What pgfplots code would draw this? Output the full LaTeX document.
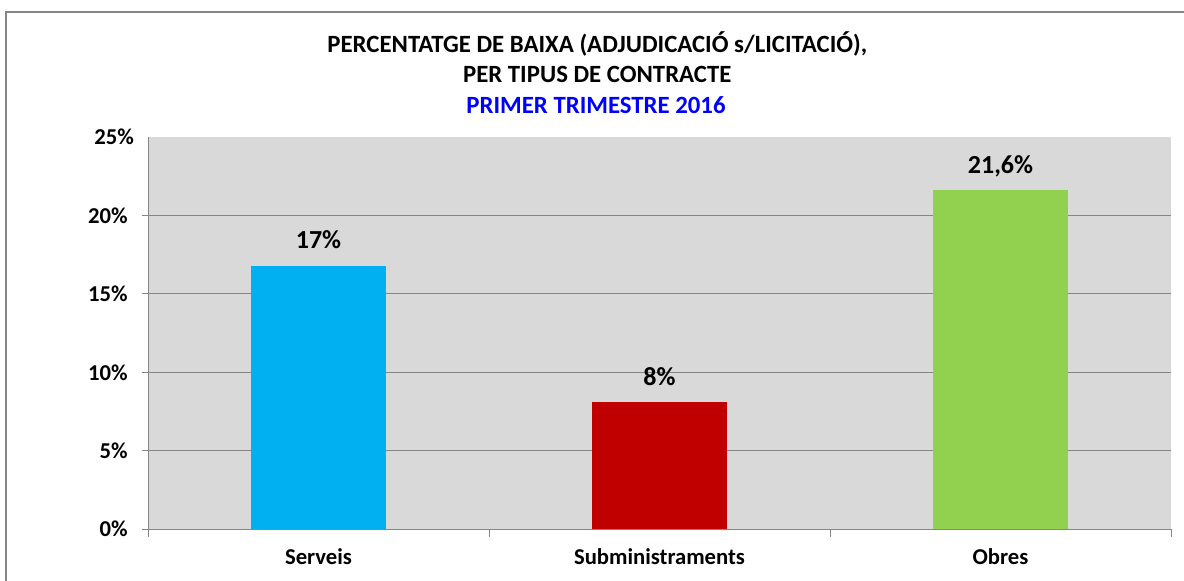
\documentclass[border=0pt]{standalone}
\usepackage{pgfplots}
\pgfplotsset{compat=1.18}
\usepackage{fontspec}
\setmainfont{Carlito}
\definecolor{plotbg}{RGB}{217,217,217}
\definecolor{gridgray}{RGB}{134,134,134}
\definecolor{servblue}{RGB}{0,176,240}
\definecolor{submred}{RGB}{192,0,0}
\definecolor{obresgreen}{RGB}{146,208,80}
\definecolor{titleblue}{RGB}{0,0,255}

\begin{document}
\begin{tikzpicture}
\useasboundingbox (0,0) rectangle (888pt,435.75pt);
% outer frame (only top and left visible)
\draw[gridgray, line width=1pt] (4.5pt,-5pt) -- (4.5pt,426.75pt) -- (900pt,426.75pt);
% title
\node[anchor=base, font=\fontsize{18.6}{22}\selectfont\bfseries] at (448pt,396.5pt)
  {PERCENTATGE DE BAIXA (ADJUDICACIÓ s/LICITACIÓ),};
\node[anchor=base, font=\fontsize{18.6}{22}\selectfont\bfseries] at (448pt,374pt)
  {PER TIPUS DE CONTRACTE};
\node[anchor=base, font=\fontsize{18.6}{22}\selectfont\bfseries, text=titleblue] at (447pt,350.7pt)
  {PRIMER TRIMESTRE 2016};

\begin{axis}[
  at={(111pt,38.8pt)}, anchor=south west,
  scale only axis, width=767.25pt, height=294.2pt,
  ybar, bar width=101.25pt, bar shift=0pt,
  xmin=-0.5, xmax=2.5, ymin=0, ymax=25,
  xtick={0,1,2},
  xticklabels={Serveis,Subministraments,Obres},
  minor xtick={-0.5,0.5,1.5,2.5},
  ytick={0,5,10,15,20},
  yticklabels={0\%,5\%,10\%,15\%,20\%},
  extra y ticks={25}, extra y tick labels={25\%},
  extra y tick style={grid=none, major tick length=0pt},
  ymajorgrids,
  grid style={gridgray, line width=0.75pt},
  axis x line*=bottom, axis y line*=left,
  axis line style={gridgray, line width=0.75pt, -},
  tick align=outside,
  major tick length=4.7pt, minor tick length=5.6pt,
  tick style={gridgray, line width=0.75pt},
  major x tick style={draw=none},
  axis background/.style={fill=plotbg},
  yticklabel style={font=\fontsize{17}{20}\selectfont\bfseries, xshift=-7pt},
  xticklabel style={font=\fontsize{17}{20}\selectfont\bfseries, anchor=base, yshift=-22pt},
  point meta=explicit symbolic,
  nodes near coords,
  every node near coord/.append style={font=\fontsize{19.5}{23}\selectfont\bfseries,
    text=black, anchor=base, yshift=12.75pt},
]
\addplot[fill=servblue, draw=none] coordinates {(0,16.8) [17\%]};
\addplot[fill=submred, draw=none] coordinates {(1,8.1) [8\%]};
\addplot[fill=obresgreen, draw=none] coordinates {(2,21.6) [21,6\%]};
\end{axis}
\end{tikzpicture}
\end{document}
